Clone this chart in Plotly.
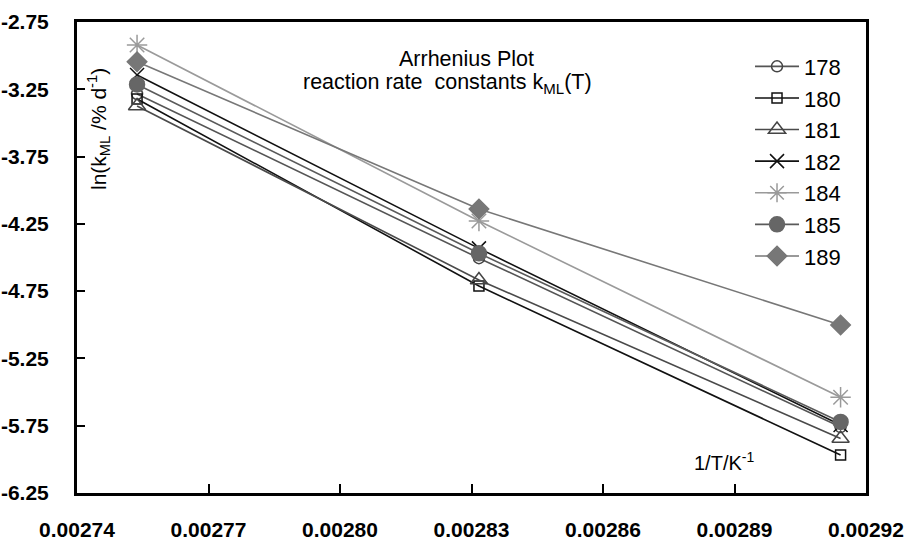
import plotly.graph_objects as go

# Reciprocal temperatures 1/T (K^-1) for 90, 80 and 70 °C
inv_T = [0.0027537, 0.0028317, 0.0029142]

series_names = ["178", "180", "181", "182", "184", "185", "189"]

# ln(k_ML) values per sample at the three temperatures
ln_k = {
    "178": [-3.285, -4.505, -5.760],
    "180": [-3.322, -4.712, -5.968],
    "181": [-3.374, -4.667, -5.845],
    "182": [-3.144, -4.432, -5.745],
    "184": [-2.921, -4.229, -5.539],
    "185": [-3.214, -4.469, -5.722],
    "189": [-3.045, -4.140, -5.002],
}

y_ticks = [-2.75, -3.25, -3.75, -4.25, -4.75, -5.25, -5.75, -6.25]
x_ticks = [0.00274, 0.00277, 0.00280, 0.00283, 0.00286, 0.00289, 0.00292]

styles = {
    "178": dict(line="#555555", symbol="circle-open", size=11, mcolor="#444444"),
    "180": dict(line="#111111", symbol="square-open", size=10, mcolor="#111111"),
    "181": dict(line="#4a4a4a", symbol="triangle-up-open", size=15, mcolor="#444444"),
    "182": dict(line="#111111", symbol="x-thin-open", size=14, mcolor="#111111"),
    "184": dict(line="#9a9a9a", symbol="asterisk-open", size=17, mcolor="#9a9a9a"),
    "185": dict(line="#5a5a5a", symbol="circle", size=15, mcolor="#666666"),
    "189": dict(line="#777777", symbol="diamond", size=15, mcolor="#777777"),
}

fig = go.Figure()
for name in series_names:
    s = styles[name]
    fig.add_trace(go.Scatter(
        x=inv_T, y=ln_k[name], name=name, mode="lines+markers",
        line=dict(color=s["line"], width=1.6),
        marker=dict(symbol=s["symbol"], size=s["size"], color=s["mcolor"],
                    line=dict(color=s["mcolor"], width=1.5)),
    ))

font_main = "Liberation Sans, Arial, sans-serif"

fig.update_layout(
    width=907, height=541,
    margin=dict(l=77, r=41, t=22, b=48),
    paper_bgcolor="white", plot_bgcolor="white",
    font=dict(family=font_main, color="black"),
    showlegend=True,
    legend=dict(
        x=0.853, y=0.950, xanchor="left", yanchor="top",
        bgcolor="rgba(0,0,0,0)", font=dict(size=22, family=font_main),
        itemwidth=44, tracegroupgap=0,
    ),
    xaxis=dict(
        range=[0.00274, 0.00292], tickmode="array", tickvals=x_ticks,
        ticktext=[f"{v:.5f}" for v in x_ticks],
        ticks="inside", ticklen=9, tickwidth=2, tickcolor="black",
        showline=True, linecolor="black", linewidth=3, mirror=True,
        showgrid=False, zeroline=False, automargin=False,
        tickfont=dict(size=21, family=font_main, weight="bold"),
        ticklabelstandoff=16,
    ),
    yaxis=dict(
        range=[-6.25, -2.75], tickmode="array", tickvals=y_ticks,
        ticktext=[f"{v:.2f}" for v in y_ticks],
        ticks="inside", ticklen=8, tickwidth=2, tickcolor="black",
        showline=True, linecolor="black", linewidth=3, mirror=True,
        showgrid=False, zeroline=False, automargin=False,
        tickfont=dict(size=21, family=font_main, weight="bold"),
        ticklabelstandoff=21,
    ),
    annotations=[
        dict(text="Arrhenius Plot", x=0.494, y=0.921, xref="paper", yref="paper",
             xanchor="center", yanchor="middle", showarrow=False, font=dict(size=21.5)),
        dict(text="reaction rate  constants k<sub>ML</sub>(T)", x=0.470, y=0.870,
             xref="paper", yref="paper", xanchor="center", yanchor="middle",
             showarrow=False, font=dict(size=21.5)),
        dict(text="ln(k<sub>ML</sub> /% d<sup>-1</sup>)", x=0.028, y=0.773,
             xref="paper", yref="paper", xanchor="center", yanchor="middle",
             showarrow=False, textangle=-90, font=dict(size=21)),
        dict(text="1/T/K<sup>-1</sup>", x=0.820, y=0.066, xref="paper", yref="paper",
             xanchor="center", yanchor="middle", showarrow=False, font=dict(size=20)),
    ],
)

fig.write_html("out.html")
